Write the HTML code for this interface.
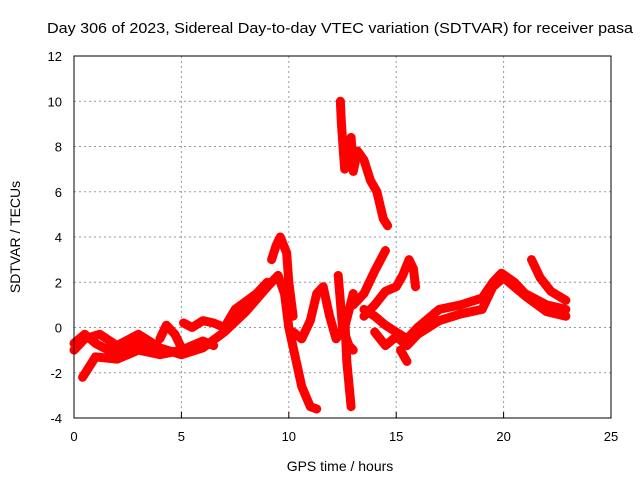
<!DOCTYPE html>
<html><head><meta charset="utf-8"><style>
body{margin:0;background:#fff}
svg{display:block;font-family:"Liberation Sans",sans-serif}
</style></head><body>
<svg id="chart" width="640" height="480">
<text x="47" y="33" font-size="15" textLength="586" lengthAdjust="spacingAndGlyphs">Day 306 of 2023, Sidereal Day-to-day VTEC variation (SDTVAR) for receiver pasa</text>
<text x="340" y="471" text-anchor="middle" font-size="14">GPS time / hours</text>
<text transform="translate(20,237) rotate(-90)" text-anchor="middle" font-size="14">SDTVAR / TECUs</text>
<g id="grid"></g><g id="marks"></g>
<rect x="74" y="56" width="537" height="362" fill="none" stroke="#000"/>
</svg>
<script>
const xTicks=[0,5,10,15,20,25];
const yTicks=[-4,-2,0,2,4,6,8,10,12];
const trackA=[[0,-1.0],[0.5,-0.5],[1.2,-0.3],[2,-0.8],[3,-0.3],[4,-0.9],[5,-1.2],[6,-0.9],[7,-0.2],[8,0.7],[9,1.8],[9.5,2.3]];
const trackA2=[[0,-0.7],[0.5,-0.3],[1,-0.7],[2,-1.2],[3,-0.6],[4,-1.2],[5,-1.0],[6,-0.6],[6.5,-0.8]];
const trackB=[[0.4,-2.2],[1,-1.3],[2,-1.4],[3,-1.0],[4,-1.2],[5,-1.0]];
const trackC=[[4,-0.5],[4.3,0.1],[4.7,-0.3],[5,-0.9]];
const trackD=[[5.1,0.2],[5.5,0.0],[6,0.3],[6.5,0.2],[7,0.0],[7.5,0.8],[8.5,1.5],[9,2.0]];
const trackSpike=[[9.2,3.0],[9.4,3.6],[9.6,4.0],[9.9,3.3],[10,2.0],[10.2,0.5]];
const trackE=[[9.5,2.3],[9.8,1.5],[10,0],[10.3,-1.3],[10.6,-2.6],[11,-3.5],[11.3,-3.6]];
const trackF=[[10.2,-0.2],[10.6,-0.5],[11,0.3],[11.3,1.5],[11.6,1.8],[11.9,0.5],[12.2,-0.5],[12.6,0],[13,1.5]];
const trackG=[[12.3,2.3],[12.5,0],[12.8,-0.8],[13,-1.0]];
const trackH=[[12.6,0.5],[12.7,-1.5],[12.9,-3.5]];
const trackI=[[13,1.0],[13.5,1.5],[14,2.5],[14.5,3.4]];
const trackJ=[[13.5,0.5],[14,1.0],[14.5,1.6],[15,1.8],[15.3,2.3],[15.6,3.0],[15.8,2.6],[15.9,1.8]];
const trackK=[[13.5,0.8],[14,0.5],[14.5,0.1],[15,-0.2],[15.5,-0.5],[16,0],[17,0.8],[18,1.0],[19,1.3],[19.5,2.0],[19.9,2.4],[20.5,2.0],[21,1.5],[22,1.0],[22.9,0.8]];
const trackK2=[[14,-0.2],[14.5,-0.8],[15,-0.4],[15.5,-0.8],[16,-0.3],[17,0.3],[18,0.6],[19,0.8],[19.5,1.8],[20,2.2],[21,1.4],[22,0.7],[22.9,0.5]];
const trackL=[[15.2,-1.0],[15.5,-1.5]];
const trackM=[[21.3,3.0],[21.7,2.2],[22.2,1.6],[22.9,1.2]];
const trackN=[[12.4,10],[12.45,9],[12.6,7],[12.8,7.8],[12.9,8.4],[13.0,6.9],[13.2,7.8],[13.5,7.4],[13.8,6.5],[14.1,6.0],[14.4,4.8],[14.6,4.5]];
const tracks=[trackA,trackA2,trackB,trackC,trackD,trackSpike,trackE,trackF,trackG,trackH,trackI,trackJ,trackK,trackK2,trackL,trackM,trackN];
const X=v=>74+v*537/25, Y=v=>418-(v+4)*362/16;
const NS='http://www.w3.org/2000/svg';
const grid=document.getElementById('grid'), marks=document.getElementById('marks');
function mk(tag,attrs,parent){const e=document.createElementNS(NS,tag);for(const k in attrs)e.setAttribute(k,attrs[k]);parent.appendChild(e);return e;}
xTicks.forEach(t=>{
  if(t>0&&t<25){const l=mk('line',{x1:X(t),x2:X(t),y1:56,y2:418,stroke:'#999','stroke-dasharray':'2,3'},grid);
  
  }
  const tk=mk('line',{x1:X(t),x2:X(t),y1:418,y2:412,stroke:'#000'},grid);
  
  
  const tx=mk('text',{x:X(t),y:441,'text-anchor':'middle','font-size':13},grid);tx.textContent=t;
  
  
});
yTicks.forEach(t=>{
  if(t>-4&&t<12){const l=mk('line',{x1:74,x2:611,y1:Y(t),y2:Y(t),stroke:'#999','stroke-dasharray':'2,3'},grid);
  
  }
  const tx=mk('text',{x:62,y:Y(t)+5,'text-anchor':'end','font-size':13},grid);tx.textContent=t;
  
  
});
tracks.forEach(tr=>{
  const p=mk('polyline',{points:tr.map(d=>X(d[0])+','+Y(d[1])).join(' '),fill:'none',stroke:'#ff0000','stroke-width':9,'stroke-linejoin':'round','stroke-linecap':'round'},marks);
  
  
  tr.forEach(d=>{
    const m=mk('path',{d:`M${X(d[0])-4},${Y(d[1])}h8M${X(d[0])},${Y(d[1])-4}v8`,stroke:'#ff0000','stroke-width':1.5},marks);
    
    
  });
});
</script>
</body></html>
